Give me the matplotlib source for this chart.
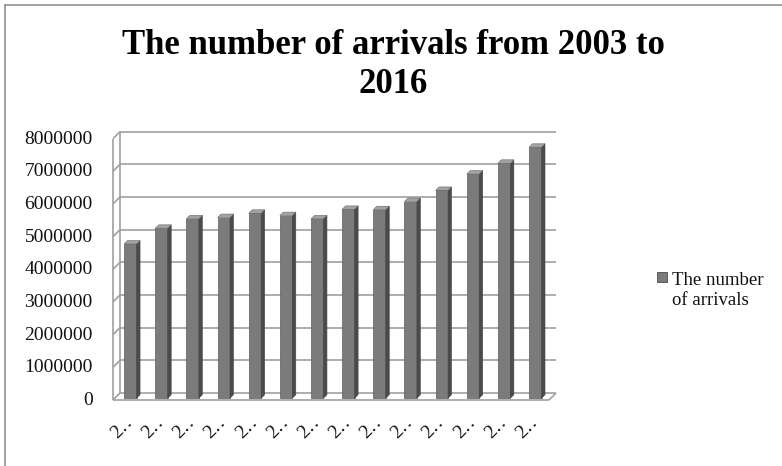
import matplotlib
matplotlib.use('Agg')
import matplotlib.pyplot as plt
import numpy as np
from matplotlib.patches import Polygon, Rectangle
from matplotlib.lines import Line2D

# arrivals per year
years = [2003, 2004, 2005, 2006, 2007, 2008, 2009,
         2010, 2011, 2012, 2013, 2014, 2015, 2016]
arrivals = [4720000, 5200000, 5490000, 5530000, 5660000, 5590000, 5490000,
            5780000, 5770000, 6020000, 6360000, 6860000, 7190000, 7680000]
# category labels are cut short, as in the spreadsheet export
tick_labels = [str(y)[0] + '\u2025' for y in years]
y_ticks = [0, 1000000, 2000000, 3000000, 4000000, 5000000, 6000000, 7000000, 8000000]
series_name = 'The number\nof arrivals'
title = 'The number of arrivals from 2003 to\n2016'

serif = ['Liberation Serif', 'DejaVu Serif']
plt.rcParams['font.family'] = serif

W, H, DPI = 782, 466, 100
fig = plt.figure(figsize=(W / DPI, H / DPI), dpi=DPI)
fig.patch.set_facecolor('white')

# axes = middle depth plane of the fake 3d box
left, right, bottom, top = 116.5, 552.6, 396.5, 135.1
ax = fig.add_axes([left / W, (H - bottom) / H, (right - left) / W, (bottom - top) / H])
x = np.arange(len(years))
ax.set_xlim(-0.5, len(years) - 0.5)
ax.set_ylim(0, 8000000)
ax.axis('off')

# half of the floor depth, converted to data units
depth_px = 3.5
dx = depth_px / ((right - left) / (len(years)))
dy = depth_px / ((bottom - top) / 8000000)

x0, x1 = -0.5, len(years) - 0.5
grid_kw = dict(color='#a0a0a0', lw=1.2, clip_on=False, zorder=1, solid_capstyle='butt')
for v in y_ticks:
    ax.plot([x0 + dx, x1 + dx], [v + dy, v + dy], **grid_kw)
    ax.plot([x0 - dx, x0 + dx], [v - dy, v + dy], **grid_kw)
# side wall and floor edges
ax.plot([x0 - dx, x0 - dx], [-dy, y_ticks[-1] - dy], **grid_kw)
ax.plot([x0 + dx, x0 + dx], [dy, y_ticks[-1] + dy], **grid_kw)
ax.plot([x0 - dx, x1 - dx], [-dy, -dy], **grid_kw)
ax.plot([x1 - dx, x1 + dx], [-dy, dy], **grid_kw)

# columns: front face, right side, top
bar_color = '#7b7b7b'
bw = 0.4
bars = ax.bar(x - dx / 2, arrivals, bw, bottom=-dy / 2, color=bar_color,
              edgecolor='#5c5c5c', linewidth=0.5, clip_on=False, zorder=3,
              label=series_name)
for xi, v in zip(x, arrivals):
    xl = xi - dx / 2 - bw / 2
    xr = xi - dx / 2 + bw / 2
    yb = -dy / 2
    yt = v - dy / 2
    side = Polygon([(xr, yb), (xr + dx, yb + dy), (xr + dx, yt + dy), (xr, yt)],
                   closed=True, facecolor='#4b4b4b', edgecolor='#444444',
                   lw=0.4, clip_on=False, zorder=3)
    cap = Polygon([(xl, yt), (xr, yt), (xr + dx, yt + dy), (xl + dx, yt + dy)],
                  closed=True, facecolor='#a2a2a2', edgecolor='#666666',
                  lw=0.4, clip_on=False, zorder=3)
    ax.add_patch(side)
    ax.add_patch(cap)

# value axis labels on the front plane
for v in y_ticks:
    ax.annotate(str(v), xy=(x0, v), xycoords='data', xytext=(-24, -4),
                textcoords='offset pixels', ha='right', va='center',
                fontsize=14, color='#111111', annotation_clip=False)

# category labels
for xi, lbl in zip(x, tick_labels):
    ax.annotate(lbl, xy=(xi, 0), xycoords='data', xytext=(4, -17),
                textcoords='offset pixels', ha='right', va='top',
                rotation=45, fontsize=14, color='#111111',
                annotation_clip=False)

fig.text(393.5 / W, (H - 93) / H, title, ha='center', va='baseline',
         fontsize=25, fontweight='bold', linespacing=1.25, color='black')

# legend: grey square beside the first line of the series name
fig.add_artist(Rectangle((657 / W, (H - 282) / H), 10 / W, 10 / H,
                         facecolor=bar_color, edgecolor='#4b4b4b', lw=0.6))
fig.text(672 / W, (H - 305) / H, series_name, ha='left', va='baseline',
         fontsize=13.5, linespacing=1.2, color='#111111')

# chart border (only top and left edges are inside the image)
fig.add_artist(Line2D([5 / W, 5 / W], [0, (H - 5) / H], color='#8a8a8a', lw=1.1))
fig.add_artist(Line2D([5 / W, 1], [(H - 5) / H, (H - 5) / H], color='#8a8a8a', lw=1.1))

fig.savefig('out.png', dpi=DPI)
